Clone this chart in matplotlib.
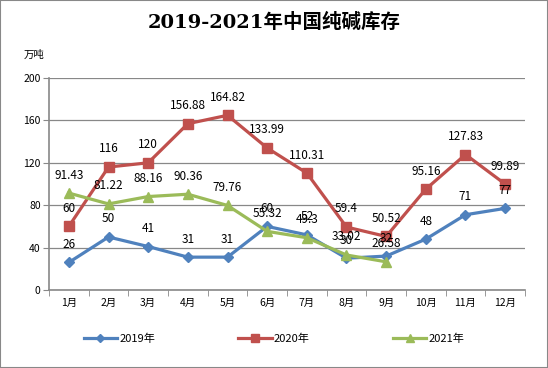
import matplotlib
matplotlib.use("Agg")
import matplotlib.pyplot as plt
from matplotlib.patches import Rectangle

plt.rcParams["font.family"] = ["Noto Sans CJK SC", "DejaVu Sans"]

months = ["1月", "2月", "3月", "4月", "5月", "6月", "7月", "8月", "9月", "10月", "11月", "12月"]
inv_2019 = [26, 50, 41, 31, 31, 60, 52, 30, 32, 48, 71, 77]
inv_2020 = [60, 116, 120, 156.88, 164.82, 133.99, 110.31, 59.4, 50.52, 95.16, 127.83, 99.89]
inv_2021 = [91.43, 81.22, 88.16, 90.36, 79.76, 55.32, 49.3, 33.02, 26.58]

series = [
    ("2019年", inv_2019, "#4F81BD", "D", 5.5),
    ("2020年", inv_2020, "#C0504D", "s", 6.5),
    ("2021年", inv_2021, "#9BBB59", "^", 7),
]

fig = plt.figure(figsize=(5.48, 3.68), dpi=100)
ax = fig.add_axes([49 / 548, 1 - 290 / 368, 476 / 548, 212 / 368])

x = list(range(len(months)))
for name, vals, color, marker, ms in series:
    xs = x[:len(vals)]
    ax.plot(xs, vals, color=color, lw=2.3, marker=marker, ms=ms,
            markeredgecolor=color, label=name, zorder=3)
    for xi, v in zip(xs, vals):
        ax.annotate(f"{v:g}", (xi, v), xytext=(0, 13), textcoords="offset points",
                    ha="center", va="center", fontsize=8.5, color="black", zorder=4)

ax.set_xlim(-0.5, 11.5)
ax.set_ylim(0, 200)
ax.set_yticks(range(0, 201, 40))
ax.set_xticks(x)
ax.set_xticklabels(months, fontsize=7.5)
ax.set_xticks([i - 0.5 for i in range(13)], minor=True)
ax.tick_params(axis="x", which="major", length=0, pad=6)
ax.tick_params(axis="x", which="minor", length=4, color="#888888", direction="out")
ax.tick_params(axis="y", length=4, color="#888888", labelsize=7.5, pad=2)
ax.grid(axis="y", color="#888888", lw=0.9)
ax.set_axisbelow(True)
for s in ["top", "right"]:
    ax.spines[s].set_visible(False)
for s in ["left", "bottom"]:
    ax.spines[s].set_color("#888888")
    ax.spines[s].set_linewidth(1.2)

fig.text(0.5, 1 - 22 / 368, "2019-2021年中国纯碱库存", ha="center", va="center",
         fontsize=14, fontweight="bold", family=["DejaVu Serif", "Noto Sans CJK SC"])
fig.text(24 / 548, 1 - 55 / 368, "万吨", ha="left", va="center", fontsize=7.5)

fig.legend(loc="center", bbox_to_anchor=(0.5, 1 - 339 / 368), ncol=3,
           frameon=False, fontsize=8, handlelength=3.0, columnspacing=7.5,
           handletextpad=0.2, markerscale=0.8)

fig.patches.append(Rectangle((0, 0), 1, 1, transform=fig.transFigure,
                             fill=False, edgecolor="#888888", lw=1.5))

fig.savefig("out.png", dpi=100)
